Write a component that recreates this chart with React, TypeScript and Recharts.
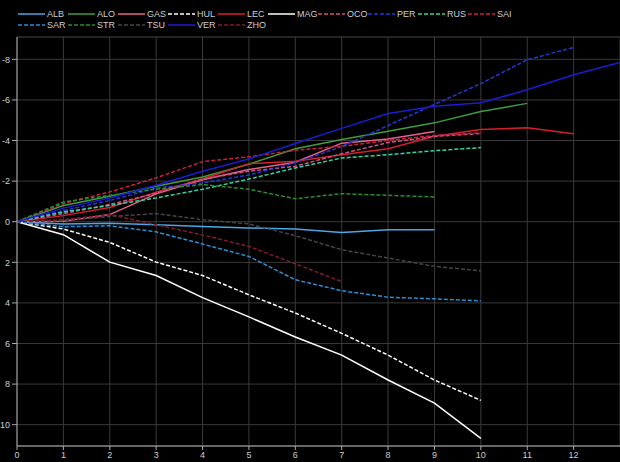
// Cumulative gap per round for 15 drivers, dark theme line chart.
// Y axis is reversed so drivers gaining come out on top.

import { LineChart, Line, XAxis, YAxis, CartesianGrid, Legend } from 'recharts'

// ── Data ──────────────────────────────────────────────────────────────────────
const rounds = [0, 1, 2, 3, 4, 5, 6, 7, 8, 9, 10, 11, 12, 13]

const ALB = [0, 0.11, 0.07, 0.15, 0.23, 0.31, 0.36, 0.53, 0.4, 0.4]
const ALO = [0, -0.8, -1.25, -1.75, -2.2, -2.83, -3.59, -4.05, -4.46, -4.87, -5.43, -5.83]
const GAS = [0, -0.02, -0.35, -1.37, -2.07, -2.57, -2.93, -3.87, -4.08, -4.44]
const HUL = [0, 0.36, 1.02, 1.99, 2.65, 3.6, 4.5, 5.5, 6.57, 7.8, 8.8]
const LEC = [0, -0.3, -0.7, -1.45, -2.1, -2.86, -2.98, -3.3, -3.59, -4.21, -4.54, -4.63, -4.33]
const MAG = [0, 0.64, 1.99, 2.65, 3.74, 4.69, 5.68, 6.57, 7.8, 8.94, 10.67]
const OCO = [0, -0.4, -0.85, -1.4, -2.1, -2.49, -2.73, -3.35, -3.9, -4.2, -4.35]
const PER = [0, -0.55, -1.04, -1.66, -1.91, -2.3, -2.9, -3.7, -4.74, -5.78, -6.8, -7.98, -8.58]
const RUS = [0, -0.48, -0.8, -1.17, -1.6, -2.1, -2.65, -3.14, -3.3, -3.5, -3.65]
const SAI = [0, -0.9, -1.47, -2.16, -2.96, -3.2, -3.52, -3.72, -4.0, -4.25, -4.38]
const SAR = [0, 0.25, 0.2, 0.5, 1.1, 1.71, 2.86, 3.4, 3.72, 3.8, 3.9]
const STR = [0, -0.97, -1.3, -1.6, -1.83, -1.6, -1.13, -1.38, -1.3, -1.22]
const TSU = [0, -0.05, -0.26, -0.4, -0.1, 0.11, 0.69, 1.38, 1.79, 2.2, 2.42]
const VER = [0, -0.67, -1.17, -1.8, -2.49, -3.09, -3.85, -4.6, -5.33, -5.69, -5.86, -6.5, -7.24, -7.84]
const ZHO = [0, -0.1, -0.35, 0.15, 0.65, 1.22, 2.07, 2.95]

const xTicks = [0, 1, 2, 3, 4, 5, 6, 7, 8, 9, 10, 11, 12]
const yTicks = [-8, -6, -4, -2, 0, 2, 4, 6, 8, 10]

// series list: name, values, colour, dashed?
const series: [string, number[], string, boolean][] = [
  ['ALB', ALB, '#4aa8e6', false],
  ['ALO', ALO, '#3f9c3f', false],
  ['GAS', GAS, '#e2638c', false],
  ['HUL', HUL, '#ffffff', true],
  ['LEC', LEC, '#d4202c', false],
  ['MAG', MAG, '#ffffff', false],
  ['OCO', OCO, '#cc5288', true],
  ['PER', PER, '#2636d6', true],
  ['RUS', RUS, '#2fd6a4', true],
  ['SAI', SAI, '#cc1f3c', true],
  ['SAR', SAR, '#2a8fd4', true],
  ['STR', STR, '#2c8c2c', true],
  ['TSU', TSU, '#44444c', true],
  ['VER', VER, '#1c1cd2', false],
  ['ZHO', ZHO, '#851a2c', true],
]

// one row per round, missing values left undefined
const rows = rounds.map((r, i) => {
  const row: Record<string, number | undefined> = { round: r }
  series.forEach(([name, vals]) => { row[name] = vals[i] })
  return row
})

// minor ticks / grid steps
const yMinor = Array.from({ length: 41 }, (_, i) => -9 + i * 0.5)
const xMinor = Array.from({ length: 66 }, (_, i) => +(i * 0.2).toFixed(1))

const FONT = 'Liberation Sans, Arial, sans-serif'
const font = { fontSize: 9, fill: '#cfcfcf', fontFamily: FONT }

// ── Legend: 10 items per row, 50px apart ─────────────────────────────────────
function LegendBox() {
  return (
    <div style={{ position: 'relative', width: 540, height: 22 }}>
      {series.map(([name, , color, dashed], i) => (
        <div key={name} style={{
          position: 'absolute', left: 18 + (i % 10) * 50, top: Math.floor(i / 10) * 11,
          height: 11, display: 'flex', alignItems: 'center', whiteSpace: 'nowrap',
        }}>
          <svg width={27} height={6} style={{ flexShrink: 0, display: 'block' }}>
            <line x1={0} y1={3} x2={27} y2={3} stroke={color} strokeWidth={1.5}
              strokeDasharray={dashed ? '4 2' : undefined} />
          </svg>
          <span style={{
            display: 'block', lineHeight: '10px',
            fontSize: 9, color: '#cfcfcf', fontFamily: FONT, marginLeft: 2,
          }}>
            {name}
          </span>
        </div>
      ))}
    </div>
  )
}

export default function App() {
  return (
    <div style={{ position: 'fixed', left: 0, top: 0, width: 620, height: 462, background: '#000', overflow: 'hidden' }}>
      <LineChart width={620} height={462} data={rows} margin={{ top: 37, right: 0, left: 0, bottom: 0 }}>
        {/* minor horizontal grid every 0.5 */}
        <CartesianGrid yAxisId="minor" vertical={false} stroke="#1f1f1f" strokeWidth={1} />
        {/* major horizontal grid every 2 */}
        <CartesianGrid yAxisId="major" vertical={false} stroke="#3a3a3a" strokeWidth={1} />
        {/* vertical grid at each round */}
        <CartesianGrid xAxisId="major" horizontal={false} stroke="#3a3a3a" strokeWidth={1} />

        <XAxis xAxisId="minor" dataKey="round" type="number" domain={[0, 13]} ticks={xMinor}
          height={0} tick={false} tickSize={2} tickLine={{ stroke: '#aaaaaa' }}
          axisLine={{ stroke: '#aaaaaa' }} allowDataOverflow />
        <XAxis xAxisId="major" dataKey="round" type="number" domain={[0, 13]} ticks={xTicks}
          height={16} tick={font} tickSize={4} tickLine={{ stroke: '#aaaaaa' }}
          axisLine={{ stroke: '#aaaaaa' }} interval={0} allowDataOverflow />
        <XAxis xAxisId="top" orientation="top" dataKey="round" type="number" domain={[0, 13]}
          height={0} tick={false} tickLine={false} axisLine={{ stroke: '#5a5a5a' }} />

        <YAxis yAxisId="minor" type="number" domain={[-9.1, 11.05]} reversed ticks={yMinor}
          width={0} tick={false} tickSize={3} tickLine={{ stroke: '#aaaaaa' }}
          axisLine={{ stroke: '#aaaaaa' }} allowDataOverflow />
        <YAxis yAxisId="major" type="number" domain={[-9.1, 11.05]} reversed ticks={yTicks}
          width={17} tick={font} tickSize={5} tickLine={{ stroke: '#aaaaaa' }}
          axisLine={{ stroke: '#aaaaaa' }} interval={0} allowDataOverflow />

        <Legend verticalAlign="middle" align="center" layout="horizontal"
          wrapperStyle={{ top: 8, left: 0, width: 540, height: 22 }} content={() => <LegendBox />} />

        {series.map(([name, , color, dashed]) => (
          <Line key={name} xAxisId="major" yAxisId="major" dataKey={name} type="linear"
            stroke={color} strokeWidth={1.5} strokeDasharray={dashed ? '4 2' : undefined}
            dot={false} activeDot={false} connectNulls={false} isAnimationActive={false} />
        ))}
      </LineChart>
    </div>
  )
}
